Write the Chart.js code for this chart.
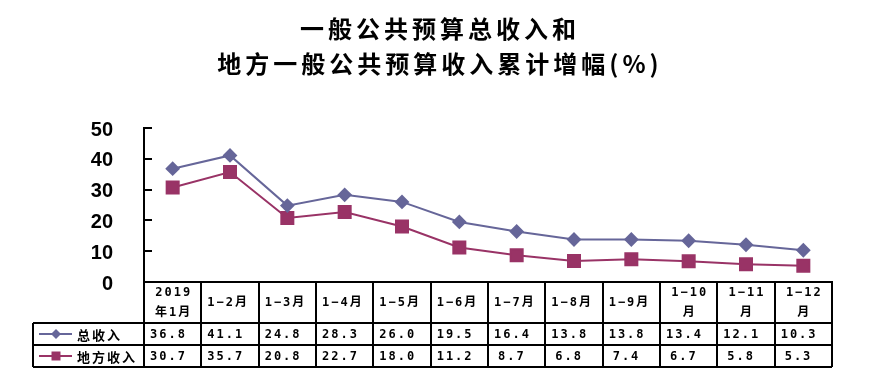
<!DOCTYPE html>
<html>
<head>
<meta charset="utf-8">
<script src="https://cdn.jsdelivr.net/npm/chart.js@4"></script>
<style>
    body{ margin:0; background:#fff; }
    #box{ width:876px; height:392px; }
</style>
</head>
<body>
<div id="box"><canvas id="revenueChart" width="876" height="392"></canvas></div>
<script>
// ================= DATA =================
let titleLines = ["一般公共预算总收入和", "地方一般公共预算收入累计增幅(%)"];

let categories = [
    ["2019", "年1月"], "1−2月", "1−3月", "1−4月", "1−5月", "1−6月",
    "1−7月", "1−8月", "1−9月", ["1−10", "月"], ["1−11", "月"], ["1−12", "月"]
];

let totalLabel = "总收入";
let totalGrowth = [36.8, 41.1, 24.8, 28.3, 26.0, 19.5, 16.4, 13.8, 13.8, 13.4, 12.1, 10.3];

let localLabel = "地方收入";
let localGrowth = [30.7, 35.7, 20.8, 22.7, 18.0, 11.2, 8.7, 6.8, 7.4, 6.7, 5.8, 5.3];

let yTicks = [0, 10, 20, 30, 40, 50];

// ================= COLORS =================
let totalColor = "#666699";
let localColor = "#993366";

/* ================= TITLE PLUGIN ================= */
let titlePlugin = {
    id: "twoLineTitle",
    afterDraw(chart){
        let ctx = chart.ctx;
        ctx.save();
        ctx.fillStyle = "#000";
        ctx.font = "bold 24px 'Noto Sans CJK SC'";
        ctx.letterSpacing = "4px";
        ctx.textAlign = "center";
        ctx.textBaseline = "middle";
        ctx.fillText(titleLines[0], 440, 29);
        ctx.fillText(titleLines[1], 440, 64);
        ctx.restore();
    }
};

/* ================= INNER Y TICKS ================= */
let innerTicksPlugin = {
    id: "innerTicks",
    afterDraw(chart){
        let ctx = chart.ctx;
        let ys = chart.scales.y;
        ctx.save();
        ctx.strokeStyle = "#000";
        ctx.lineWidth = 2;
        yTicks.forEach(v => {
            let y = Math.round(ys.getPixelForValue(v));
            ctx.beginPath();
            ctx.moveTo(ys.right, y);
            ctx.lineTo(ys.right + 8, y);
            ctx.stroke();
        });
        ctx.restore();
    }
};

/* ================= DATA TABLE ================= */
function drawMarker(ctx, style, x, y, color){
    ctx.fillStyle = color;
    ctx.beginPath();
    if(style === "diamond"){
        ctx.moveTo(x, y - 5);
        ctx.lineTo(x + 5, y);
        ctx.lineTo(x, y + 5);
        ctx.lineTo(x - 5, y);
        ctx.closePath();
    } else {
        ctx.rect(x - 4.5, y - 4.5, 9, 9);
    }
    ctx.fill();
}

let tablePlugin = {
    id: "dataTable",
    afterDraw(chart){
        let ctx = chart.ctx;
        let xs = chart.scales.x;
        let n = categories.length;
        let left = xs.left;
        let right = xs.right;
        let cw = (right - left) / n;
        let top = chart.chartArea.bottom;
        let legendLeft = 33;
        let headH = 41;
        let rowH = 22;
        let bottom = top + headH + rowH * 2;

        ctx.save();
        ctx.strokeStyle = "#000";
        ctx.lineWidth = 2;

        // horizontal lines
        ctx.beginPath();
        ctx.moveTo(left, top);
        ctx.lineTo(right, top);
        [top + headH, top + headH + rowH, bottom].forEach(y => {
            ctx.moveTo(legendLeft, y);
            ctx.lineTo(right, y);
        });
        // vertical lines
        for(let i = 0; i <= n; i++){
            let x = Math.round(left + i * cw);
            ctx.moveTo(x, top);
            ctx.lineTo(x, bottom);
        }
        ctx.moveTo(legendLeft, top + headH);
        ctx.lineTo(legendLeft, bottom);
        ctx.stroke();

        // header
        ctx.fillStyle = "#000";
        ctx.font = "bold 12px 'DejaVu Sans Mono', 'Noto Sans CJK SC'";
        ctx.letterSpacing = "2px";
        ctx.textBaseline = "middle";
        categories.forEach((label, i) => {
            let x0 = left + i * cw;
            if(Array.isArray(label)){
                ctx.textAlign = "center";
                ctx.fillText(label[0], x0 + cw / 2 + 1, top + 11);
                ctx.fillText(label[1], x0 + cw / 2 + 1, top + 31);
            } else {
                ctx.textAlign = "left";
                ctx.fillText(label, x0 + 6, top + 21);
            }
        });

        // values
        ctx.textAlign = "left";
        let rows = [
            { values: totalGrowth, y: top + headH + rowH / 2 },
            { values: localGrowth, y: top + headH + rowH * 1.5 }
        ];
        rows.forEach(r => {
            r.values.forEach((v, i) => {
                let x0 = left + i * cw;
                let off = v < 10 ? 10 : 6;
                ctx.fillText(v.toFixed(1), x0 + off, r.y + 1);
            });
        });

        // legend keys
        let keys = [
            { label: totalLabel, color: totalColor, style: "diamond", y: rows[0].y },
            { label: localLabel, color: localColor, style: "square", y: rows[1].y }
        ];
        keys.forEach(k => {
            ctx.strokeStyle = k.color;
            ctx.lineWidth = 2;
            ctx.beginPath();
            ctx.moveTo(39, k.y);
            ctx.lineTo(72, k.y);
            ctx.stroke();
            drawMarker(ctx, k.style, 56, k.y, k.color);
            ctx.fillStyle = "#000";
            ctx.font = "bold 13px 'Noto Sans CJK SC'";
            ctx.letterSpacing = "2px";
            ctx.fillText(k.label, 77, k.y + 1);
        });

        ctx.restore();
    }
};

/* ================= CHART ================= */
let ctx1 = document.getElementById("revenueChart");

new Chart(ctx1, {

    type: "line",

    data: {

        labels: categories,

        datasets: [{
            label: totalLabel,
            data: totalGrowth,
            borderColor: totalColor,
            backgroundColor: totalColor,
            borderWidth: 2,
            pointStyle: "rectRot",
            pointRadius: 6,
            pointHoverRadius: 6,
            tension: 0
        }, {
            label: localLabel,
            data: localGrowth,
            borderColor: localColor,
            backgroundColor: localColor,
            borderWidth: 2,
            pointStyle: "rect",
            pointRadius: 8.5,
            pointHoverRadius: 8.5,
            tension: 0
        }]

    },

    options: {

        responsive: false,
        animation: false,

        layout: {
            padding: { top: 128, right: 44, bottom: 110, left: 0 }
        },

        plugins: {
            legend: { display: false },
            title: { display: false },
            tooltip: { enabled: false }
        },

        scales: {

            x: {
                offset: true,
                grid: { display: false, drawTicks: false },
                border: { display: true, color: "#000", width: 2 },
                ticks: { display: false }
            },

            y: {
                min: 0,
                max: 50,
                afterFit(scale){ scale.width = 144; },
                grid: { display: false, drawTicks: false },
                border: { display: true, color: "#000", width: 2 },
                ticks: {
                    stepSize: 10,
                    padding: 31,
                    labelOffset: 2,
                    color: "#000",
                    font: { family: "'Liberation Sans'", size: 20, weight: "bold" }
                }
            }

        }

    },

    plugins: [titlePlugin, innerTicksPlugin, tablePlugin]

});
</script>
</body>
</html>
